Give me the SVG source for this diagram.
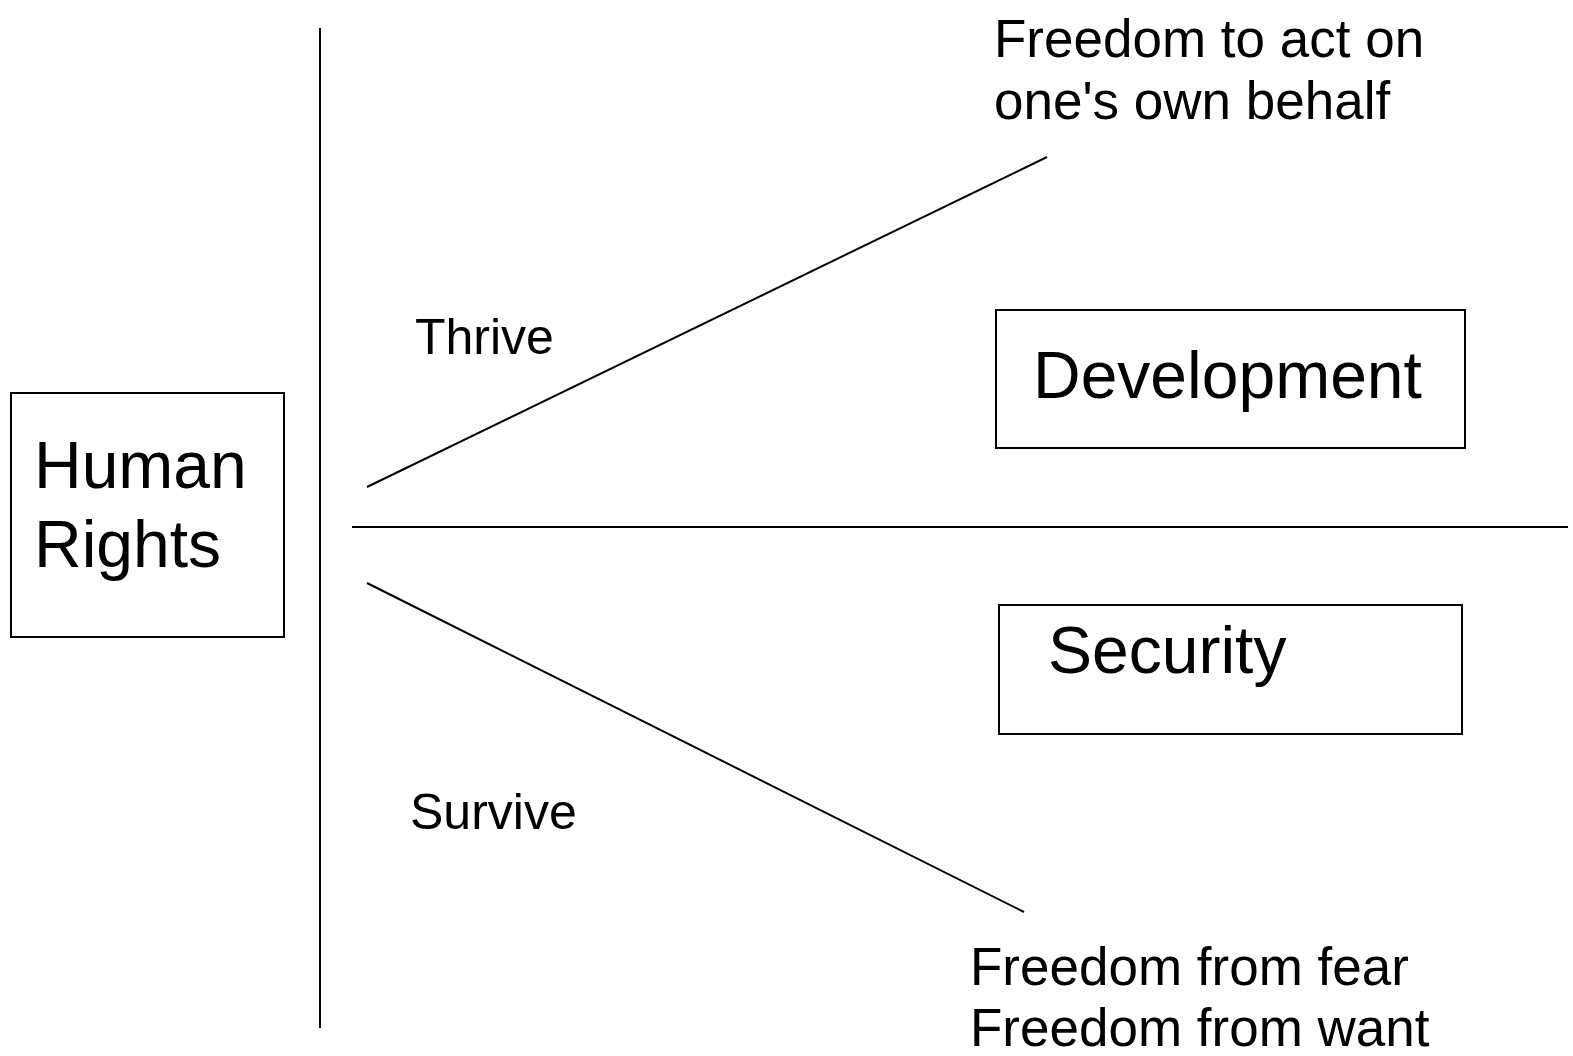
<svg xmlns="http://www.w3.org/2000/svg" width="1573" height="1056" viewBox="0 0 1573 1056">
<style>
.box{fill:#fff;stroke:#000;stroke-width:2}
.ln{stroke:#000;stroke-width:2;fill:none}
text{font-family:"Liberation Sans",Arial,sans-serif;fill:#000}
.big{font-size:66px}
.mid{font-size:53px}
.sm{font-size:50px}
</style>
<rect width="1573" height="1056" fill="#fff"/>
<g id="connectors">
<line class="ln" x1="320" y1="28" x2="320" y2="1028"/>
<line class="ln" x1="352" y1="527" x2="1568" y2="527"/>
<line class="ln" x1="367" y1="487" x2="1047" y2="157"/>
<line class="ln" x1="367" y1="583" x2="1024" y2="912"/>
</g>
<g id="human-rights">
<rect class="box" x="11" y="393" width="273" height="244"/>
<text class="big" x="34" y="488">Human</text>
<text class="big" x="34" y="567">Rights</text>
</g>
<g id="development">
<rect class="box" x="996" y="310" width="469" height="138"/>
<text class="big" x="1033" y="398">Development</text>
</g>
<g id="security">
<rect class="box" x="999" y="605" width="463" height="129"/>
<text class="big" x="1048" y="673">Security</text>
</g>
<g id="thrive"><text class="sm" x="415" y="354">Thrive</text></g>
<g id="survive"><text class="sm" x="410" y="829">Survive</text></g>
<g id="freedom-act">
<text class="mid" x="994" y="57">Freedom to act on</text>
<text class="mid" x="994" y="119">one's own behalf</text>
</g>
<g id="freedom-fear">
<text class="mid" x="970" y="985">Freedom from fear</text>
<text class="mid" x="970" y="1046">Freedom from want</text>
</g>
</svg>
